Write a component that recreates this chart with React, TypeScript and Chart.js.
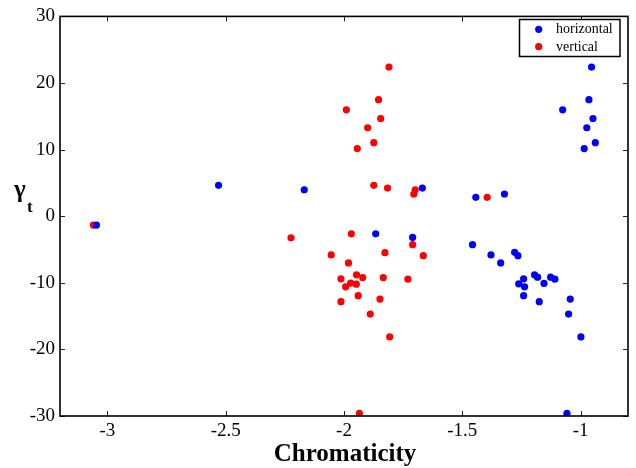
import React, { useEffect, useRef } from "react";
import { Chart, registerables } from "chart.js";

Chart.register(...registerables);

const X_TICKS = [-3, -2.5, -2, -1.5, -1];
const Y_TICKS = [-30, -20, -10, 0, 10, 20, 30];

const horizontalX = [
  -0.954, -0.965, -1.076, -0.948, -0.974, -0.938, -0.985,
  -2.53, -1.669, -2.168, -1.322, -1.443, -3.046, -1.866, -1.71,
  -1.457, -1.279, -1.379, -1.265, -1.338, -1.195, -1.182, -1.127,
  -1.241, -1.109, -1.155, -1.262, -1.237, -1.241, -1.044, -1.175,
  -1.051, -0.999, -1.058,
];
const horizontalY = [
  22.39, 17.5, 15.97, 14.67, 13.28, 11.04, 10.15,
  4.63, 4.22, 3.97, 3.33, 2.84, -1.34, -2.64, -3.19,
  -4.28, -5.43, -5.82, -5.93, -7.01, -8.81, -9.16, -9.16,
  -9.4, -9.46, -10.1, -10.15, -10.6, -11.94, -12.45, -12.84,
  -14.69, -18.12, -29.61,
];
const verticalX = [
  -1.81, -1.854, -1.99, -1.845, -1.9, -1.874, -1.944,
  -1.874, -1.816, -1.699, -1.705, -1.395, -3.059, -1.969, -2.224,
  -1.71, -1.827, -2.054, -1.665, -1.981, -1.947, -1.921, -1.834,
  -2.013, -1.73, -1.972, -1.948, -1.993, -1.94, -1.848, -2.013,
  -1.889, -1.807, -1.935,
];
const verticalY = [
  22.39, 17.5, 15.97, 14.67, 13.28, 11.04, 10.15,
  4.63, 4.22, 3.97, 3.33, 2.84, -1.34, -2.64, -3.24,
  -4.28, -5.48, -5.82, -5.93, -7.01, -8.81, -9.21, -9.21,
  -9.4, -9.46, -10.06, -10.21, -10.6, -11.94, -12.45, -12.84,
  -14.69, -18.12, -29.61,
];

const SERIES_LABELS = ["horizontal", "vertical"];
const SERIES_COLORS = ["#0000ff", "#ff0000"];
const X_TITLE = "Chromaticity";
const Y_TITLE_MAIN = "γ";
const Y_TITLE_SUB = "t";

const FONT = "'Liberation Serif', 'Times New Roman', serif";

const framePlugin = {
  id: "frame",
  afterDraw(chart: any) {
    const { ctx, chartArea } = chart;
    const { left, right, top, bottom } = chartArea;
    const xs = chart.scales.x;
    const ys = chart.scales.y;
    ctx.save();
    // inward ticks
    ctx.strokeStyle = "#222";
    ctx.lineWidth = 1;
    ctx.beginPath();
    X_TICKS.forEach((v) => {
      const px = Math.round(xs.getPixelForValue(v)) + 0.5;
      ctx.moveTo(px, top);
      ctx.lineTo(px, top + 5);
      ctx.moveTo(px, bottom);
      ctx.lineTo(px, bottom - 5);
    });
    Y_TICKS.forEach((v) => {
      const py = Math.round(ys.getPixelForValue(v)) + 0.5;
      ctx.moveTo(left, py);
      ctx.lineTo(left + 5, py);
      ctx.moveTo(right, py);
      ctx.lineTo(right - 5, py);
    });
    ctx.stroke();
    // box
    ctx.strokeStyle = "#000";
    ctx.lineWidth = 1.6;
    ctx.strokeRect(left, top, right - left, bottom - top);

    // legend
    const lx = 519.5, ly = 19.5, lw = 100.5, lh = 37;
    ctx.fillStyle = "#fff";
    ctx.fillRect(lx, ly, lw, lh);
    ctx.lineWidth = 1.5;
    ctx.strokeRect(lx, ly, lw, lh);
    ctx.font = `14px ${FONT}`;
    ctx.textBaseline = "middle";
    ctx.textAlign = "left";
    SERIES_LABELS.forEach((lab, i) => {
      const cy = 29.3 + i * 17.4;
      ctx.fillStyle = SERIES_COLORS[i];
      ctx.beginPath();
      ctx.arc(538.7, cy, 3.6, 0, Math.PI * 2);
      ctx.fill();
      ctx.fillStyle = "#000";
      ctx.fillText(lab, 556, cy + 0.5);
    });

    // titles
    ctx.fillStyle = "#000";
    ctx.textBaseline = "alphabetic";
    ctx.textAlign = "center";
    ctx.font = `bold 25px ${FONT}`;
    ctx.fillText(X_TITLE, (left + right) / 2 + 1, 461);
    ctx.textAlign = "left";
    ctx.font = `bold 25px ${FONT}`;
    ctx.fillText(Y_TITLE_MAIN, 14, 197);
    ctx.font = `bold 17px ${FONT}`;
    ctx.fillText(Y_TITLE_SUB, 27, 212);
    ctx.restore();
  },
};

export default function App() {
  const ref = useRef<HTMLCanvasElement | null>(null);
  useEffect(() => {
    if (!ref.current) return;
    const mk = (xs: number[], ys: number[]) => xs.map((x, i) => ({ x, y: ys[i] }));
    const chart = new Chart(ref.current, {
      type: "scatter",
      data: {
        datasets: [
          {
            label: SERIES_LABELS[0],
            data: mk(horizontalX, horizontalY),
            backgroundColor: SERIES_COLORS[0],
            borderColor: SERIES_COLORS[0],
            borderWidth: 0,
            pointRadius: 3.6,
          },
          {
            label: SERIES_LABELS[1],
            data: mk(verticalX, verticalY),
            backgroundColor: SERIES_COLORS[1],
            borderColor: SERIES_COLORS[1],
            borderWidth: 0,
            pointRadius: 3.6,
          },
        ],
      },
      options: {
        animation: false,
        responsive: false,
        devicePixelRatio: 1,
        layout: { padding: { left: 0, right: 8, top: 14, bottom: 0 } },
        plugins: { legend: { display: false }, tooltip: { enabled: false } },
        scales: {
          x: {
            type: "linear",
            min: -3.2,
            max: -0.8,
            grid: { display: false, drawTicks: false },
            border: { display: false },
            afterBuildTicks: (s: any) => {
              s.ticks = X_TICKS.map((v) => ({ value: v }));
            },
            afterFit: (s: any) => {
              s.height = 52;
            },
            ticks: {
              padding: 4,
              color: "#000",
              font: { family: FONT, size: 19 },
              callback: (v: any) => String(v),
              maxRotation: 0,
            },
          },
          y: {
            type: "linear",
            min: -30,
            max: 30,
            grid: { display: false, drawTicks: false },
            border: { display: false },
            afterBuildTicks: (s: any) => {
              s.ticks = Y_TICKS.map((v) => ({ value: v }));
            },
            afterFit: (s: any) => {
              s.width = 60;
            },
            ticks: {
              padding: 5,
              color: "#000",
              font: { family: FONT, size: 19 },
              callback: (v: any) => String(v),
            },
          },
        },
      },
      plugins: [framePlugin],
    });
    return () => chart.destroy();
  }, []);
  return (
    <div style={{ position: "absolute", left: 0, top: 0, width: 636, height: 468, background: "#fff" }}>
      <canvas ref={ref} width={636} height={468} style={{ display: "block" }} />
    </div>
  );
}
